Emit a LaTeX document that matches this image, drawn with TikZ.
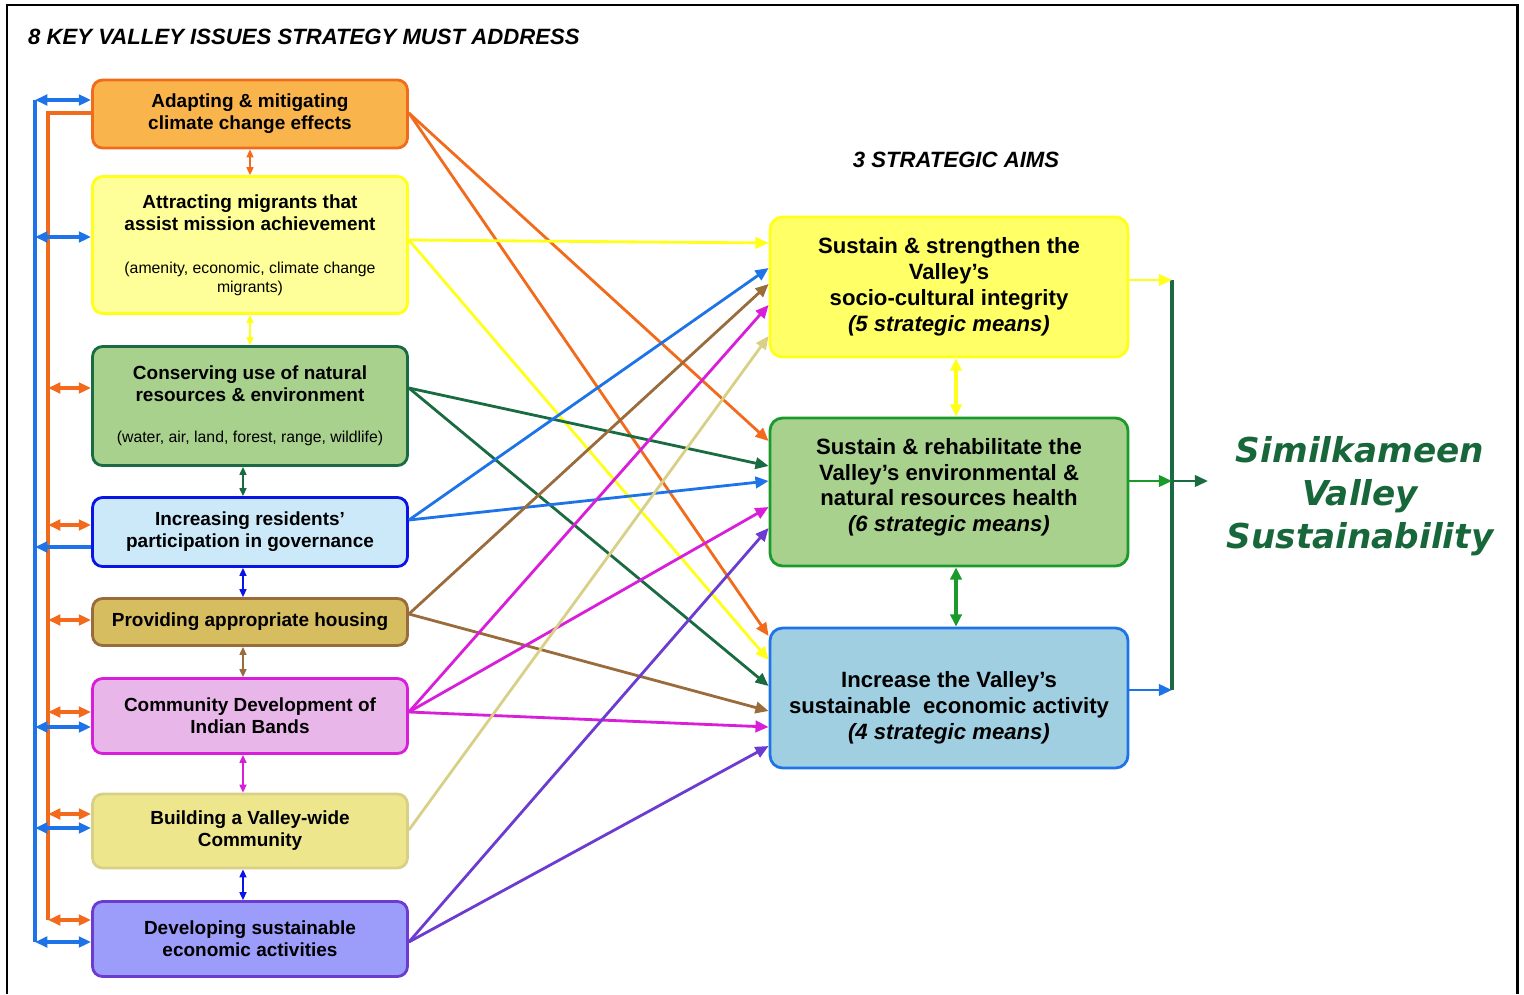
\documentclass[tikz,border=0pt]{standalone}
\usepackage{fontspec}
\setmainfont{Liberation Sans}
\newfontfamily\goalfont{DejaVu Sans}
\usetikzlibrary{arrows.meta}

\definecolor{cOrange}{HTML}{F26B1D}
\definecolor{fOrange}{HTML}{F9B54C}
\definecolor{cYellow}{HTML}{FFFF1A}
\definecolor{fYellow}{HTML}{FFFF99}
\definecolor{fAimA}{HTML}{FFFF66}
\definecolor{cDkGreen}{HTML}{1B6B42}
\definecolor{fGreen}{HTML}{A9D18E}
\definecolor{cNavy}{HTML}{0A14E6}
\definecolor{fBlue}{HTML}{CCE9FA}
\definecolor{cBrown}{HTML}{9A6C3C}
\definecolor{fTan}{HTML}{D6BD60}
\definecolor{cMagenta}{HTML}{D81ED8}
\definecolor{fPink}{HTML}{E8B6E8}
\definecolor{cKhaki}{HTML}{D8D086}
\definecolor{fKhaki}{HTML}{EEE68C}
\definecolor{cPurple}{HTML}{6C3CD0}
\definecolor{fPurple}{HTML}{9C9CFA}
\definecolor{cGreen}{HTML}{1A9A2A}
\definecolor{cBlue}{HTML}{1E73E8}
\definecolor{fAimC}{HTML}{9FCFE1}
\definecolor{cGoal}{HTML}{17673A}

\newcommand{\smalltxt}[1]{{\fontsize{9pt}{10.8pt}\selectfont\mdseries #1}}

\tikzset{
  issue/.style={draw, line width=1.6pt, rounded corners=0.2cm, minimum width=6.3cm,
    align=center, inner sep=0pt, font=\bfseries\fontsize{10.8pt}{12.5pt}\selectfont},
  aim/.style={draw, line width=1.6pt, rounded corners=0.25cm, minimum width=7.16cm,
    minimum height=2.8cm, align=center, inner sep=0pt,
    font=\bfseries\fontsize{12.6pt}{14.7pt}\selectfont},
  heading/.style={font=\bfseries\itshape\fontsize{12.6pt}{14pt}\selectfont},
  link/.style={line width=1.6pt, -{Triangle[length=7.5pt,width=6.5pt]}},
  busline/.style={line width=1.8pt},
  busarrow/.style={line width=1.8pt, {Triangle[length=7pt,width=6pt]}-{Triangle[length=7pt,width=6pt]}},
  pairarrow/.style={line width=0.8pt, {Triangle[length=4.5pt,width=4pt]}-{Triangle[length=4.5pt,width=4pt]}},
  aimarrow/.style={line width=2pt, {Triangle[length=7pt,width=6.5pt]}-{Triangle[length=7pt,width=6.5pt]}}
}

\begin{document}
\begin{tikzpicture}[x=0.02cm,y=-0.02cm]
\useasboundingbox (0,0) rectangle (1524,994);
\draw[line width=1.7pt] (7,994) -- (7,5) -- (1517,5) -- (1517,994);

% headings
\node[heading, anchor=west] (ttlissues) at (22,37) {8 KEY VALLEY ISSUES STRATEGY MUST ADDRESS};
\node[heading] (ttlaims) at (956,160) {3 STRATEGIC AIMS};

% the 8 issues
\node[issue, draw=cOrange, fill=fOrange, minimum height=1.36cm] (i1) at (250,114) {Adapting \& mitigating\\climate change effects};
\node[issue, draw=cYellow, fill=fYellow, minimum height=2.74cm] (i2) at (250,245) {Attracting migrants that\\assist mission achievement\\[12pt]\smalltxt{(amenity, economic, climate change}\\[-1.7pt]\smalltxt{migrants)}};
\node[issue, draw=cDkGreen, fill=fGreen, minimum height=2.38cm] (i3) at (250,406) {Conserving use of natural\\resources \& environment\\[11pt]\smalltxt{(water, air, land, forest, range, wildlife)}};
\node[issue, draw=cNavy, fill=fBlue, minimum height=1.38cm] (i4) at (250,532) {Increasing residents'\\participation in governance};
\node[issue, draw=cBrown, fill=fTan, minimum height=0.94cm] (i5) at (250,622) {Providing appropriate housing};
\node[issue, draw=cMagenta, fill=fPink, minimum height=1.5cm] (i6) at (250,716) {Community Development of\\Indian Bands};
\node[issue, draw=cKhaki, fill=fKhaki, minimum height=1.48cm] (i7) at (250,831) {Building a Valley-wide\\Community};
\node[issue, draw=cPurple, fill=fPurple, minimum height=1.5cm] (i8) at (250,939) {Developing sustainable\\economic activities};

% the 3 aims
\node[aim, draw=cYellow, fill=fAimA] (aA) at (949,287) {Sustain \& strengthen the\\Valley’s\\socio-cultural integrity\\\textit{(5 strategic means)}};
\node[aim, draw=cGreen, fill=fGreen, minimum height=2.96cm] (aB) at (949,492) {Sustain \& rehabilitate the\\Valley’s environmental \&\\natural resources health\\\textit{(6 strategic means)}\rule[-8pt]{0pt}{8pt}};
\node[aim, draw=cBlue, fill=fAimC] (aC) at (949,698) {\rule{0pt}{20pt}Increase the Valley’s\\sustainable\ \ economic activity\\\textit{(4 strategic means)}};

\node[font=\goalfont\bfseries\itshape\fontsize{19.5pt}{24.4pt}\selectfont, text=cGoal, align=center] (goal) at (1360,496) {Similkameen\\Valley\\Sustainability};

% links between neighbouring issues
\draw[pairarrow, cOrange] (i1.south) -- (i2.north);
\draw[pairarrow, cYellow] (i2.south) -- (i3.north);
\draw[pairarrow, cDkGreen] ([xshift=-4pt]i3.south) -- ([xshift=-4pt]i4.north);
\draw[pairarrow, cNavy] ([xshift=-4pt]i4.south) -- ([xshift=-4pt]i5.north);
\draw[pairarrow, cBrown] ([xshift=-4pt]i5.south) -- ([xshift=-4pt]i6.north);
\draw[pairarrow, cMagenta] ([xshift=-4pt]i6.south) -- ([xshift=-4pt]i7.north);
\draw[pairarrow, cNavy] ([xshift=-4pt]i7.south) -- ([xshift=-4pt]i8.north);

% left buses
\draw[busline, cBlue] (35,100) -- (35,942);
\draw[busline, cOrange] (i1.west |- 0,113) -| (48,920);
\draw[busarrow, cBlue] (35,100) -- (i1.west |- 0,100);
\draw[busarrow, cBlue] (35,237) -- (i2.west |- 0,237);
\draw[busline, cBlue, {Triangle[length=7pt,width=6pt]}-] (35,547) -- (i4.west |- 0,547);
\draw[busarrow, cBlue] (35,727) -- (i6.west |- 0,727);
\draw[busarrow, cBlue] (35,828) -- (i7.west |- 0,828);
\draw[busarrow, cBlue] (35,942) -- (i8.west |- 0,942);
\draw[busarrow, cOrange] (48,388) -- (i3.west |- 0,388);
\draw[busarrow, cOrange] (48,525) -- (i4.west |- 0,525);
\draw[busarrow, cOrange] (48,620) -- (i5.west |- 0,620);
\draw[busarrow, cOrange] (48,712) -- (i6.west |- 0,712);
\draw[busarrow, cOrange] (48,814) -- (i7.west |- 0,814);
\draw[busarrow, cOrange] (48,920) -- (i8.west |- 0,920);

% issues to aims
\draw[link, cOrange] (i1.east |- 0,113) -- (aB.west |- 0,441);
\draw[link, cOrange] (i1.east |- 0,113) -- (aC.west |- 0,636);
\draw[link, cYellow] (i2.east |- 0,240) -- (aA.west |- 0,243);
\draw[link, cYellow] (i2.east |- 0,240) -- (aC.west |- 0,660);
\draw[link, cDkGreen] (i3.east |- 0,388) -- (aB.west |- 0,466);
\draw[link, cDkGreen] (i3.east |- 0,388) -- (aC.west |- 0,686);
\draw[link, cBlue] (i4.east |- 0,520) -- (aA.west |- 0,268);
\draw[link, cBlue] (i4.east |- 0,520) -- (aB.west |- 0,481);
\draw[link, cBrown] (i5.east |- 0,614) -- (aA.west |- 0,284);
\draw[link, cBrown] (i5.east |- 0,614) -- (aC.west |- 0,711);
\draw[link, cMagenta] (i6.east |- 0,712) -- (aA.west |- 0,305);
\draw[link, cMagenta] (i6.east |- 0,712) -- (aB.west |- 0,507);
\draw[link, cMagenta] (i6.east |- 0,712) -- (aC.west |- 0,727);
\draw[link, cKhaki] (i7.east |- 0,830) -- (aA.west |- 0,336);
\draw[link, cPurple] (i8.east |- 0,942) -- (aB.west |- 0,528);
\draw[link, cPurple] (i8.east |- 0,942) -- (aC.west |- 0,746);

% between aims
\draw[aimarrow, cYellow] ([xshift=4pt]aA.south) -- ([xshift=4pt]aB.north);
\draw[aimarrow, cGreen] ([xshift=4pt]aB.south) -- ([xshift=4pt]aC.north);

% right bus
\coordinate (jA) at (1172,280);
\coordinate (jB) at (1172,481);
\coordinate (jC) at (1172,690);
\draw[busline, cDkGreen] (jA) -- (jC);
\draw[link, cYellow] (aA.east |- jA) -- (jA);
\draw[link, cGreen] (aB.east |- jB) -- (jB);
\draw[link, cBlue] (aC.east |- jC) -- (jC);
\draw[link, cDkGreen] (jB) -- ++(36,0);
\end{tikzpicture}
\end{document}
